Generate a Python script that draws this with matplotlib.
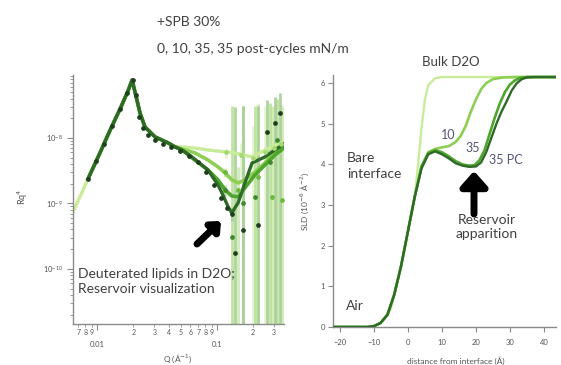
import numpy as np
import matplotlib
matplotlib.use("Agg")
import matplotlib.pyplot as plt
from matplotlib.ticker import LogLocator, FuncFormatter, NullFormatter, FixedLocator

plt.rcParams['font.family'] = ['Lato', 'DejaVu Sans']

# ---------------- data: reflectivity (R q^4 vs Q) ----------------
q_shared = [0.0063, 0.0084, 0.0106, 0.0128, 0.0156, 0.0181, 0.0196, 0.0215, 0.0228,
            0.0251, 0.0304, 0.0391, 0.0447]
r_shared = [7.4e-10, 2.37e-9, 5.98e-9, 1.30e-8, 2.81e-8, 5.22e-8, 7.67e-8, 3.80e-8, 2.41e-8,
            1.47e-8, 1.04e-8, 8.4e-9, 7.3e-9]

q_fit_0 = [0.0511, 0.0656, 0.0841, 0.102, 0.141, 0.196, 0.251, 0.322, 0.362]
r_fit_0 = [7.3e-9, 7.0e-9, 6.56e-9, 6.3e-9, 5.9e-9, 5.13e-9, 6.56e-9, 8.1e-9, 8.7e-9]

q_fit_10 = [0.0511, 0.0656, 0.0841, 0.102, 0.117, 0.133, 0.150, 0.171, 0.207, 0.251, 0.304, 0.362]
r_fit_10 = [6.79e-9, 5.9e-9, 4.61e-9, 3.61e-9, 2.92e-9, 2.29e-9, 2.06e-9, 2.29e-9, 3.03e-9,
            4.15e-9, 6.11e-9, 7.8e-9]

q_fit_35 = [0.0511, 0.0619, 0.0841, 0.102, 0.117, 0.133, 0.150, 0.171, 0.207, 0.251, 0.304, 0.362]
r_fit_35 = [6.56e-9, 4.95e-9, 3.25e-9, 2.29e-9, 1.61e-9, 1.30e-9, 1.26e-9, 1.73e-9, 2.72e-9,
            3.87e-9, 5.5e-9, 7.03e-9]

q_fit_35pc = [0.0511, 0.0619, 0.0841, 0.102, 0.110, 0.124, 0.133, 0.141, 0.150, 0.171, 0.196,
              0.251, 0.304, 0.362]
r_fit_35pc = [6.56e-9, 5.13e-9, 3.25e-9, 1.91e-9, 1.45e-9, 8.85e-10, 7.16e-10, 8.54e-10, 1.02e-9,
              2.06e-9, 4.15e-9, 5.13e-9, 6.56e-9, 8.1e-9]

# measured points
q_pts_35pc = [0.0084, 0.0098, 0.0114, 0.0133, 0.0156, 0.0178, 0.0200, 0.0211, 0.0224, 0.0242,
              0.0266, 0.0304, 0.0355, 0.0414, 0.049, 0.058, 0.069, 0.081, 0.094, 0.108, 0.121,
              0.133, 0.141, 0.165, 0.220, 0.261, 0.304, 0.335]
r_pts_35pc = [2.37e-9, 4.4e-9, 8.2e-9, 1.51e-8, 2.81e-8, 4.83e-8, 7.67e-8, 4.53e-8, 2.09e-8, 1.42e-8,
              1.11e-8, 9.3e-9, 8.1e-9, 7.3e-9, 6.3e-9, 5.3e-9, 4.3e-9, 3.0e-9, 1.91e-9, 1.21e-9, 8.5e-10,
              6.9e-10, 1.75e-10, 3.9e-10, 4.7e-10, 1.24e-8, 1.69e-8, 2.41e-8]
e_pts_35pc = [0, 0, 0, 0, 0, 0, 0, 0, 0, 0,
              0, 0, 0, 0, 0, 0, 0, 0, 0, 0, 0,
              1.5e-10, 3.0e-8, 3.0e-8, 3.0e-8, 2.5e-8, 2.5e-8, 2.5e-8]

q_pts_35 = [0.117, 0.133, 0.165, 0.207, 0.276, 0.316]
r_pts_35 = [1.61e-9, 3.1e-10, 1.02e-9, 1.26e-9, 4.3e-9, 9.3e-9]
e_pts_35 = [3e-10, 3.0e-8, 3.0e-8, 3.0e-8, 3.0e-8, 3.0e-8]

q_pts_10 = [0.117, 0.150, 0.220, 0.286, 0.350]
r_pts_10 = [3.0e-9, 1.6e-9, 2.54e-9, 1.26e-9, 1.13e-9]
e_pts_10 = [5e-10, 2.0e-9, 3.0e-8, 3.0e-8, 3.0e-8]

q_pts_0 = [0.120, 0.160, 0.200, 0.250, 0.300, 0.340]
r_pts_0 = [6.0e-9, 5.5e-9, 5.0e-9, 6.0e-9, 7.0e-9, 8.0e-9]
e_pts_0 = [1e-9, 3e-9, 1.0e-8, 2.5e-8, 2.5e-8, 2.5e-8]

# ---------------- data: SLD profiles ----------------
z_bare = [-22, -12, -10, -8, -5, -2, 0, 2, 3, 4, 5, 6, 8, 10, 43.5]
sld_bare = [0, 0, 0.02, 0.1, 0.45, 1.5, 2.35, 3.2, 4.0, 4.9, 5.6, 5.95, 6.12, 6.15, 6.15]

z_10 = [-22, -12, -10, -8, -6, -4, -2, 0, 2, 4, 6, 8, 10, 12, 14, 15.5, 17, 18.5, 20, 21.5,
        23, 25, 28, 32, 43.5]
sld_10 = [0, 0, 0.02, 0.1, 0.3, 0.8, 1.5, 2.35, 3.2, 3.95, 4.3, 4.38, 4.42, 4.45, 4.55, 4.7,
          4.95, 5.3, 5.6, 5.85, 6.0, 6.1, 6.14, 6.15, 6.15]

z_35 = [-22, -12, -10, -8, -6, -4, -2, 0, 2, 4, 6, 8, 10, 12, 14, 16, 18, 19.5, 21, 22.5, 24,
        25.5, 27, 28.5, 30, 31.5, 33, 35, 43.5]
sld_35 = [0, 0, 0.02, 0.1, 0.3, 0.8, 1.5, 2.35, 3.2, 3.95, 4.28, 4.35, 4.3, 4.2, 4.08, 4.0,
          3.97, 3.98, 4.1, 4.35, 4.75, 5.15, 5.5, 5.78, 5.97, 6.07, 6.13, 6.15, 6.15]

z_35pc = [-22, -12, -10, -8, -6, -4, -2, 0, 2, 4, 6, 8, 10, 12, 14, 16, 18, 20, 21.5, 23, 24.5,
          26, 27.5, 29, 30.5, 32, 33.5, 35, 37, 43.5]
sld_35pc = [0, 0, 0.02, 0.1, 0.3, 0.8, 1.5, 2.35, 3.2, 3.9, 4.25, 4.32, 4.25, 4.15, 4.03, 3.97,
            3.94, 3.95, 4.05, 4.3, 4.65, 5.0, 5.3, 5.55, 5.82, 6.0, 6.1, 6.14, 6.15, 6.15]

sld_ticks = [0, 1, 2, 3, 4, 5, 6]
z_ticks = [-20, -10, 0, 10, 20, 30, 40]

# ---------------- styling ----------------
c0, c10, c35, c35pc = '#c9ec98', '#8ccf52', '#4ea62c', '#2f6a28'
e0, e10, e35, e35pc = '#e2f4cc', '#cdeab0', '#b9e099', '#a8cf98'
grey = '#8a8a8a'
txt = '#404040'

W, H = 561, 365
def P(x, y):
    return (x / W, 1 - y / H)

fig = plt.figure(figsize=(W / 100, H / 100), dpi=100)
axL = fig.add_axes([73 / W, 1 - 324 / H, (284 - 73) / W, (324 - 75) / H])
axR = fig.add_axes([333 / W, 1 - 327 / H, (556 - 333) / W, (327 - 75) / H])

# ---- left panel ----
axL.set_xscale('log')
axL.set_yscale('log')
for q, r, e, col in [(q_pts_0, r_pts_0, e_pts_0, e0), (q_pts_10, r_pts_10, e_pts_10, e10),
                     (q_pts_35, r_pts_35, e_pts_35, e35), (q_pts_35pc, r_pts_35pc, e_pts_35pc, e35pc)]:
    axL.errorbar(q, r, yerr=e, fmt='none', ecolor=col, elinewidth=2.0, alpha=0.9, zorder=1)

axL.plot(q_shared + q_fit_0, r_shared + r_fit_0, color=c0, lw=2.4, zorder=2)
axL.plot(q_shared[1:] + q_fit_10, r_shared[1:] + r_fit_10, color=c10, lw=2.6, zorder=3)
axL.plot(q_shared[1:] + q_fit_35, r_shared[1:] + r_fit_35, color=c35, lw=2.6, zorder=4)
axL.plot(q_shared[1:] + q_fit_35pc, r_shared[1:] + r_fit_35pc, color=c35pc, lw=2.4, zorder=5)

axL.plot(q_pts_0, r_pts_0, 'o', ms=2.4, color='#a6d874', zorder=6)
axL.plot(q_pts_10, r_pts_10, 'o', ms=2.4, color='#6cb83c', zorder=6)
axL.plot(q_pts_35, r_pts_35, 'o', ms=2.4, color='#3f8a2a', zorder=6)
axL.plot(q_pts_35pc, r_pts_35pc, 'o', ms=2.4, color='#1d3f1d', zorder=7)

axL.set_xlim(0.0063, 0.362)
axL.set_ylim(1.44e-11, 9.16e-8)
for s in ['top', 'right']:
    axL.spines[s].set_visible(False)
for s in ['left', 'bottom']:
    axL.spines[s].set_color(grey)
    axL.spines[s].set_linewidth(1.0)

axL.xaxis.set_major_locator(FixedLocator([0.01, 0.1]))
axL.xaxis.set_major_formatter(FuncFormatter(lambda v, p: '%g' % v))
axL.xaxis.set_minor_locator(LogLocator(base=10, subs=np.arange(2, 10), numticks=20))
def minor_lab(v, p):
    d = int(round(v / 10 ** np.floor(np.log10(v) + 1e-9)))
    return str(d)
axL.xaxis.set_minor_formatter(FuncFormatter(minor_lab))
axL.yaxis.set_major_locator(FixedLocator([1e-10, 1e-9, 1e-8]))
axL.yaxis.set_minor_locator(LogLocator(base=10, subs=np.arange(2, 10), numticks=20))
axL.yaxis.set_minor_formatter(NullFormatter())
axL.tick_params(axis='x', which='major', direction='out', length=4, pad=8, labelsize=5.5,
                colors=grey, labelcolor='#555555')
axL.tick_params(axis='x', which='minor', direction='out', length=2.5, pad=1, labelsize=5,
                colors=grey, labelcolor='#555555')
axL.tick_params(axis='y', which='major', direction='out', length=4, labelsize=5.5,
                colors=grey, labelcolor='#555555')
axL.tick_params(axis='y', which='minor', direction='out', length=2.5, colors=grey)

fig.text(*P(23, 197), 'Rq$^4$', rotation=90, ha='center', va='center', fontsize=6.5, color='#555555')
fig.text(*P(178, 359), 'Q (Å$^{-1}$)', ha='center', va='center', fontsize=6, color='#555555')

axL.text(0.025, 0.169, 'Deuterated lipids in D2O;\nReservoir visualization', transform=axL.transAxes,
         ha='left', va='center', fontsize=10, color=txt, linespacing=1.3)
axL.annotate('', xy=((221 - 73) / 211, (324 - 221) / 249), xytext=((197 - 73) / 211, (324 - 244) / 249),
             xycoords='axes fraction', textcoords='axes fraction',
             arrowprops=dict(arrowstyle='-|>,head_length=0.5,head_width=0.45', lw=5, color='black',
                             shrinkA=0, shrinkB=0))

fig.text(*P(157, 22), '+SPB 30%', ha='left', va='center', fontsize=10, color=txt)
fig.text(*P(157, 49), '0, 10, 35, 35 post-cycles mN/m', ha='left', va='center', fontsize=10, color=txt)

# ---- right panel ----
axR.plot(z_bare, sld_bare, color=c0, lw=1.7, zorder=2)
axR.plot(z_10, sld_10, color=c10, lw=1.9, zorder=3)
axR.plot(z_35, sld_35, color=c35, lw=1.9, zorder=4)
axR.plot(z_35pc, sld_35pc, color=c35pc, lw=1.7, zorder=5)
axR.set_xlim(-22, 43.5)
axR.set_ylim(0, 6.2)
axR.set_xticks(z_ticks)
axR.set_yticks(sld_ticks)
for s in ['top', 'right']:
    axR.spines[s].set_visible(False)
for s in ['left', 'bottom']:
    axR.spines[s].set_color(grey)
    axR.spines[s].set_linewidth(1.0)
axR.tick_params(direction='out', length=3.5, labelsize=5.5, colors=grey, labelcolor='#555555', pad=2)
axR.tick_params(axis='x', pad=5)

fig.text(*P(305, 202), 'SLD (10$^{-6}$ Å$^{-2}$)', rotation=90, ha='center', va='center',
         fontsize=6, color='#555555')
fig.text(*P(456, 361), 'distance from interface (Å)', ha='center', va='center', fontsize=6,
         color='#555555')

fig.text(*P(451, 62), 'Bulk D2O', ha='center', va='center', fontsize=9.5, color=txt)
fig.text(*P(347, 166), 'Bare\ninterface', ha='left', va='center', fontsize=10, color=txt,
         linespacing=1.3)
fig.text(*P(448, 135), '10', ha='center', va='center', fontsize=9, color='#55557a')
fig.text(*P(473, 148), '35', ha='center', va='center', fontsize=9, color='#55557a')
fig.text(*P(489, 160), '35 PC', ha='left', va='center', fontsize=9, color='#55557a')
fig.text(*P(487, 227), 'Reservoir\napparition', ha='center', va='center', fontsize=10, color=txt,
         linespacing=1.3)
fig.text(*P(346, 306), 'Air', ha='left', va='center', fontsize=10, color=txt)
fig.patches.append(matplotlib.patches.FancyArrowPatch(
    P(474, 214), P(474, 171), transform=fig.transFigure, figure=fig,
    arrowstyle='-|>,head_length=0.45,head_width=0.4', lw=5, color='black',
    mutation_scale=20, shrinkA=0, shrinkB=0))

fig.savefig('out.png', dpi=100)
